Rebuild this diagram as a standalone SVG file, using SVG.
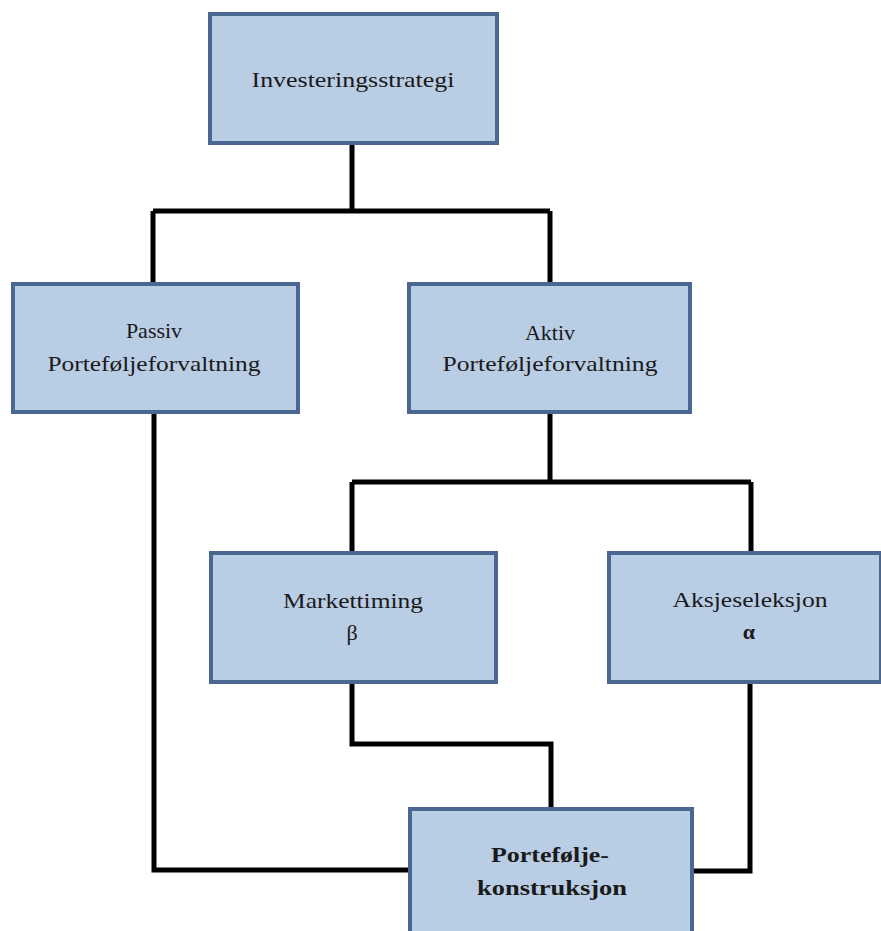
<svg xmlns="http://www.w3.org/2000/svg" width="881" height="931" viewBox="0 0 881 931">
<style>
.box{fill:#b9cde5;stroke:#4a6792;stroke-width:4}
.t{font-family:"Liberation Serif",serif;font-size:22px;fill:#1a1a1a;text-anchor:middle}
.b{font-weight:bold}
.c{fill:none;stroke:#000;stroke-width:5}
</style>
<rect width="881" height="931" fill="#fff"/>
<g id="connectors">
<path class="c" d="M352 143V211M153 211H550M153 211V283M550 211V283"/>
<path class="c" d="M154 412V870H410"/>
<path class="c" d="M550 412V482M352 482H751M352 482V553M751 482V553"/>
<path class="c" d="M352 682V744H551V809"/>
<path class="c" d="M750 682V871H692"/>
</g>
<g id="investeringsstrategi">
<rect class="box" x="210" y="14" width="287" height="129"/>
<text class="t" x="353" y="87" textLength="203" lengthAdjust="spacingAndGlyphs">Investeringsstrategi</text>
</g>
<g id="passiv">
<rect class="box" x="13" y="284" width="285" height="128"/>
<text class="t" x="154" y="338">Passiv</text>
<text class="t" x="154" y="371" textLength="213" lengthAdjust="spacingAndGlyphs">Porteføljeforvaltning</text>
</g>
<g id="aktiv">
<rect class="box" x="409" y="284" width="281" height="128"/>
<text class="t" x="550" y="340">Aktiv</text>
<text class="t" x="550" y="371" textLength="215" lengthAdjust="spacingAndGlyphs">Porteføljeforvaltning</text>
</g>
<g id="markettiming">
<rect class="box" x="211" y="553" width="285" height="129"/>
<text class="t" x="353" y="608" textLength="140" lengthAdjust="spacingAndGlyphs">Markettiming</text>
<text class="t" x="352" y="640">β</text>
</g>
<g id="aksjeseleksjon">
<rect class="box" x="609" y="553" width="272" height="129"/>
<text class="t" x="750" y="607" textLength="155" lengthAdjust="spacingAndGlyphs">Aksjeseleksjon</text>
<text class="t b" x="749" y="639">α</text>
</g>
<g id="portefoljekonstruksjon">
<rect class="box" x="410" y="809" width="282" height="130"/>
<text class="t b" x="550" y="862" textLength="118" lengthAdjust="spacingAndGlyphs">Portefølje-</text>
<text class="t b" x="552" y="895" textLength="150" lengthAdjust="spacingAndGlyphs">konstruksjon</text>
</g>
</svg>
